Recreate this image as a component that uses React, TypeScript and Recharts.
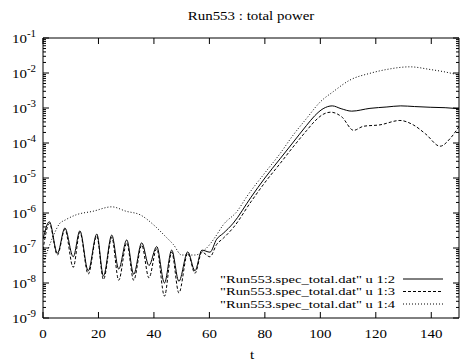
import { LineChart, Line, XAxis, YAxis } from "recharts";

// u 1:2 (solid)
const tSolid = [0, 2.3, 5.2, 7.9, 10.9, 13.3, 16.3, 19.4, 21.8, 24.8, 27.3, 30.2, 32.7, 35.6, 38.2, 41.0, 43.8, 46.4, 49.0, 52.2, 54.8, 57.3, 60.2, 62.6, 65, 68.6, 75, 80, 85.5, 90, 95, 98, 101, 104.3, 107.5, 111.3, 117.9, 124, 129, 134, 139.6, 145, 150];
const vSolid = [1.78e-7, 5.62e-7, 7.08e-8, 3.72e-7, 5.62e-8, 3.09e-7, 2.24e-8, 2.51e-7, 1.58e-8, 2.34e-7, 2.51e-8, 1.7e-7, 1.78e-8, 1.41e-7, 3.16e-8, 1.1e-7, 1.0e-8, 8.71e-8, 1.12e-8, 7.76e-8, 2.24e-8, 8.7e-8, 7.6e-8, 1.78e-7, 2.63e-7, 5.13e-7, 2.82e-6, 1.0e-5, 3.55e-5, 1.0e-4, 3.16e-4, 6.03e-4, 9.55e-4, 1.15e-3, 9.55e-4, 8.13e-4, 9.77e-4, 1.07e-3, 1.15e-3, 1.1e-3, 1.05e-3, 1.02e-3, 9.55e-4];

// u 1:3 (dashed)
const tDashed = [0, 2.3, 5.2, 7.9, 10.9, 13.3, 16.3, 19.4, 21.8, 24.8, 27.3, 30.2, 32.7, 35.6, 38.2, 41.0, 43.8, 46.4, 49.0, 52.2, 54.8, 57.3, 60.2, 62.6, 65, 68.6, 75, 80, 85.5, 90, 95, 98, 101, 103.8, 107.7, 112, 115.5, 121.5, 128.7, 133.5, 138, 143.2, 147, 150];
const vDashed = [8.9e-8, 5.0e-7, 6.3e-8, 3.4e-7, 2.8e-8, 2.8e-7, 1.8e-8, 2.2e-7, 1.26e-8, 2.0e-7, 1.2e-8, 1.4e-7, 1.2e-8, 1.2e-7, 1.4e-8, 9.5e-8, 4.2e-9, 7.6e-8, 5.2e-9, 7.1e-8, 1.9e-8, 7.6e-8, 5.6e-8, 1.26e-7, 1.9e-7, 3.8e-7, 2.1e-6, 7.4e-6, 2.6e-5, 7.4e-5, 2.24e-4, 4.2e-4, 6.6e-4, 7.6e-4, 5.6e-4, 2.3e-4, 3.0e-4, 3.3e-4, 4.4e-4, 3.3e-4, 1.8e-4, 8.1e-5, 1.4e-4, 2.95e-4];

// u 1:4 (dotted)
const tDotted = [0, 2, 4, 6, 8, 12, 18, 24.8, 30, 35, 40, 44, 47, 50, 54.8, 59, 62, 65, 70, 73.5, 80, 85.5, 90, 95, 100, 104.7, 110.7, 117.9, 123.9, 132.3, 139.6, 145, 150];
const vDotted = [3.2e-8, 1.0e-7, 2.5e-7, 5.0e-7, 6.3e-7, 8.9e-7, 1.12e-6, 1.5e-6, 1.12e-6, 8.9e-7, 4.5e-7, 2.2e-7, 1.26e-7, 6.3e-8, 6.3e-8, 1.0e-7, 2.0e-7, 4.6e-7, 1.12e-6, 2.95e-6, 1.4e-5, 5.0e-5, 1.6e-4, 5.0e-4, 1.5e-3, 2.95e-3, 6.3e-3, 9.8e-3, 1.26e-2, 1.5e-2, 1.26e-2, 1.07e-2, 8.7e-3];

const xTicks = [0, 20, 40, 60, 80, 100, 120, 140];
const yMajor = [1e-9, 1e-8, 1e-7, 1e-6, 1e-5, 1e-4, 1e-3, 1e-2, 1e-1];
const legendLabels = [
  '"Run553.spec_total.dat" u 1:2',
  '"Run553.spec_total.dat" u 1:3',
  '"Run553.spec_total.dat" u 1:4',
];
const dashes = ["0", "3 2", "1 2"];

const FONT = '"Liberation Serif", serif';
// gnuplot text in the reference is a bit wider than Times at the same height
const SX = 1.15;

const solidData = tSolid.map((t, i) => ({ t, v: vSolid[i] }));
const dashedData = tDashed.map((t, i) => ({ t, v: vDashed[i] }));
const dottedData = tDotted.map((t, i) => ({ t, v: vDotted[i] }));

// major + minor (2..9) ticks per decade
const yTicks = yMajor.flatMap((d, i) =>
  i === yMajor.length - 1 ? [d] : [d, 2 * d, 3 * d, 4 * d, 5 * d, 6 * d, 7 * d, 8 * d, 9 * d]
);

const isMajor = (v: number) => {
  const e = Math.round(Math.log10(v));
  return Math.abs(v - Math.pow(10, e)) / v < 1e-6;
};

const Txt = ({ x, y, anchor = "middle", size = 13, sx = SX, children }: any) => (
  <text
    transform={`translate(${x},${y}) scale(${sx},1)`}
    x={0}
    y={0}
    textAnchor={anchor}
    fontSize={size}
    fontFamily={FONT}
    fill="#000"
  >
    {children}
  </text>
);

const LeftTick = ({ x, y, payload }: any) => {
  const v = payload.value;
  const major = isMajor(v);
  const e = Math.round(Math.log10(v));
  return (
    <g>
      <line x1={x} x2={x + (major ? 6 : 3)} y1={y} y2={y} stroke="#000" />
      {major && (
        <Txt x={x - 7} y={y + 4.5} anchor="end" size={13}>
          10
          <tspan dy={-6} fontSize={9.5}>
            {e}
          </tspan>
        </Txt>
      )}
    </g>
  );
};

const RightTick = ({ x, y, payload }: any) => {
  const major = isMajor(payload.value);
  return <line x1={x} x2={x - (major ? 6 : 3)} y1={y} y2={y} stroke="#000" />;
};

const BottomTick = ({ x, y, payload }: any) => (
  <g>
    <line x1={x} x2={x} y1={y} y2={y - 6} stroke="#000" />
    <Txt x={x} y={y + 20}>
      {payload.value}
    </Txt>
  </g>
);

const TopTick = ({ x, y }: any) => <line x1={x} x2={x} y1={y} y2={y + 6} stroke="#000" />;

export default function App() {
  return (
    <div style={{ position: "absolute", left: 0, top: 0, width: 461, height: 364, background: "#fff" }}>
      <LineChart width={461} height={364} margin={{ top: 0, right: 0, bottom: 0, left: 0 }}>
        <XAxis
          dataKey="t"
          type="number"
          domain={[0, 150]}
          allowDataOverflow
          ticks={xTicks}
          height={46}
          tickSize={0}
          tickMargin={0}
          tick={<BottomTick />}
          axisLine={{ stroke: "#000" }}
        />
        <XAxis
          xAxisId="top"
          orientation="top"
          dataKey="t"
          type="number"
          domain={[0, 150]}
          allowDataOverflow
          ticks={xTicks}
          height={38}
          tickSize={0}
          tickMargin={0}
          tick={<TopTick />}
          axisLine={{ stroke: "#000" }}
        />
        <YAxis
          scale="log"
          type="number"
          domain={[1e-9, 1e-1]}
          allowDataOverflow
          ticks={yTicks}
          interval={0}
          width={43}
          tickSize={0}
          tickMargin={0}
          tick={<LeftTick />}
          axisLine={{ stroke: "#000" }}
        />
        <YAxis
          yAxisId="right"
          orientation="right"
          scale="log"
          type="number"
          domain={[1e-9, 1e-1]}
          allowDataOverflow
          ticks={yTicks}
          interval={0}
          width={2}
          tickSize={0}
          tickMargin={0}
          tick={<RightTick />}
          axisLine={{ stroke: "#000" }}
        />
        <Line data={solidData} dataKey="v" type="monotone" stroke="#000" strokeWidth={1} dot={false} isAnimationActive={false} />
        <Line data={dashedData} dataKey="v" type="monotone" stroke="#000" strokeWidth={1} strokeDasharray={dashes[1]} dot={false} isAnimationActive={false} />
        <Line data={dottedData} dataKey="v" type="monotone" stroke="#000" strokeWidth={1} strokeDasharray={dashes[2]} dot={false} isAnimationActive={false} />
      </LineChart>
      <svg width={461} height={364} style={{ position: "absolute", left: 0, top: 0, pointerEvents: "none" }}>
        <Txt x={251} y={20}>
          Run553 : total power
        </Txt>
        <Txt x={252} y={359}>
          t
        </Txt>
        {legendLabels.map((label, i) => (
          <g key={label}>
            <Txt x={395} y={282.5 + i * 12.5} anchor="end" size={11.2} sx={1.3}>
              {label}
            </Txt>
            <line
              x1={403}
              x2={443}
              y1={279 + i * 12.5}
              y2={279 + i * 12.5}
              stroke="#000"
              strokeWidth={1}
              strokeDasharray={i === 0 ? undefined : dashes[i]}
            />
          </g>
        ))}
      </svg>
    </div>
  );
}
